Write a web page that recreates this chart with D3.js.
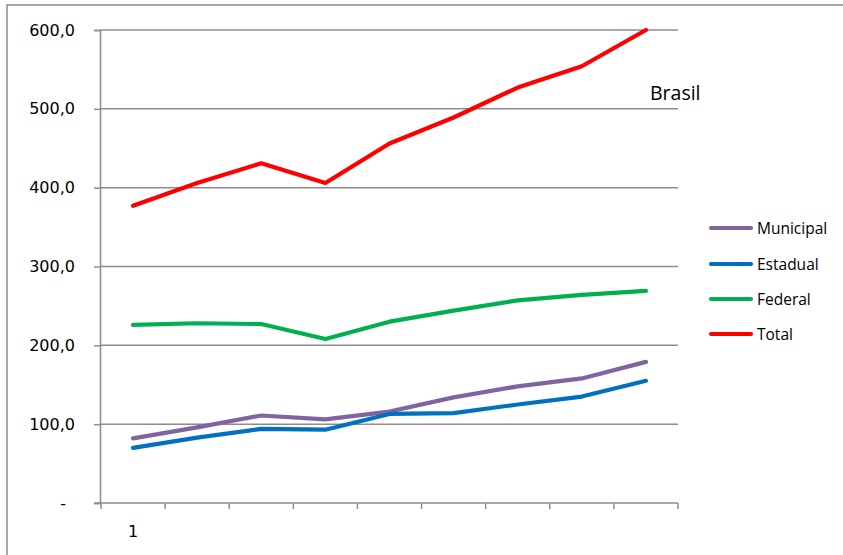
<!DOCTYPE html>
<html>
<head>
<meta charset="utf-8">
<script src="https://cdn.jsdelivr.net/npm/d3@7"></script>
<style>
  body { margin: 0; background: #fff; }
  svg { display: block; }
</style>
</head>
<body>
<div class="chart"></div>
<script>
var W = 843, H = 555;

// data
var categories = ["1", "2", "3", "4", "5", "6", "7", "8", "9"];
var xLabels = ["1", "", "", "", "", "", "", "", ""];
var seriesNames = ["Municipal", "Estadual", "Federal", "Total"];
var seriesColors = ["#8064A2", "#0070C0", "#00B050", "#FF0000"];
var municipal = [82, 96, 111, 106, 116, 134, 148, 158, 179];
var estadual = [70, 83, 94, 93, 113, 114, 125, 135, 155];
var federal = [226, 228, 227, 208, 230, 244, 257, 264, 269];
var total = [377, 406, 431, 406, 456, 489, 527, 554, 600];
var yTicks = [0, 100, 200, 300, 400, 500, 600];

var svg = d3.select(".chart").append("svg")
    .attr("width", W).attr("height", H);

// outer chart frame (runs off the right and bottom edge)
svg.append("rect")
    .attr("x", 7).attr("y", 5)
    .attr("width", 900).attr("height", 600)
    .attr("fill", "none")
    .attr("stroke", "#8c8c8c")
    .attr("stroke-width", 1.5);

var x = d3.scaleBand().domain(d3.range(categories.length)).range([101, 678]).padding(0);
var y = d3.scaleLinear().domain([0, 600]).range([503, 30]);

var ptBr = d3.formatLocale({decimal: ",", thousands: ".", grouping: [3], currency: ["R$", ""]});
var fmt = ptBr.format(".1f");

// horizontal gridlines
svg.append("g").selectAll("line")
    .data(yTicks.filter(d => d > 0))
    .enter().append("line")
    .attr("x1", 100).attr("x2", 678)
    .attr("y1", d => y(d)).attr("y2", d => y(d))
    .attr("stroke", "#8c8c8c")
    .attr("stroke-width", 1.5);

// y axis
var yAxis = svg.append("g")
    .attr("transform", "translate(100,0)")
    .call(d3.axisLeft(y).tickValues(yTicks).tickSize(6).tickPadding(19)
        .tickFormat(d => d === 0 ? "-" : fmt(d)));
yAxis.select(".domain").attr("stroke", "#8c8c8c").attr("stroke-width", 1.5);
yAxis.selectAll(".tick line").attr("stroke", "#8c8c8c").attr("stroke-width", 1.5);
yAxis.selectAll("text")
    .attr("font-family", "DejaVu Sans")
    .attr("font-size", 16)
    .attr("fill", "#000");
yAxis.selectAll(".tick").filter(d => d === 0).select("text").attr("dx", -9);

// x axis: line, boundary ticks, labels
var xg = svg.append("g").attr("transform", "translate(0,503)");
xg.append("line")
    .attr("x1", 94).attr("x2", 678)
    .attr("stroke", "#8c8c8c").attr("stroke-width", 1.5);
xg.selectAll(".xt")
    .data(d3.range(categories.length + 1))
    .enter().append("line")
    .attr("class", "xt")
    .attr("x1", d => x.range()[0] + d * x.bandwidth())
    .attr("x2", d => x.range()[0] + d * x.bandwidth())
    .attr("y1", 0).attr("y2", 6)
    .attr("stroke", "#8c8c8c").attr("stroke-width", 1.5);
xg.selectAll(".xl")
    .data(xLabels)
    .enter().append("text")
    .attr("x", (d, i) => x(i) + x.bandwidth() / 2)
    .attr("y", 34)
    .attr("text-anchor", "middle")
    .attr("font-family", "DejaVu Sans")
    .attr("font-size", 16)
    .text(d => d);

// lines
var allSeries = [municipal, estadual, federal, total];
var line = d3.line()
    .x((d, i) => x(i) + x.bandwidth() / 2)
    .y(d => y(d));

svg.append("g").selectAll("path")
    .data(allSeries)
    .enter().append("path")
    .attr("d", line)
    .attr("fill", "none")
    .attr("stroke", (d, i) => seriesColors[i])
    .attr("stroke-width", 4.2)
    .attr("stroke-linejoin", "round")
    .attr("stroke-linecap", "round");

// label inside plot
svg.append("text")
    .attr("x", 650).attr("y", 100)
    .attr("font-family", "Open Sans")
    .attr("font-size", 19.5)
    .text("Brasil");

// legend
var legY = [228, 264, 299, 334];
var leg = svg.append("g").selectAll("g")
    .data(seriesNames)
    .enter().append("g")
    .attr("transform", (d, i) => `translate(0,${legY[i]})`);
leg.append("line")
    .attr("x1", 711).attr("x2", 751)
    .attr("stroke", (d, i) => seriesColors[i])
    .attr("stroke-width", 4.2)
    .attr("stroke-linecap", "round");
leg.append("text")
    .attr("x", 757).attr("y", 5.5)
    .attr("font-family", "Open Sans")
    .attr("font-size", 15.5)
    .text(d => d);
</script>
</body>
</html>
